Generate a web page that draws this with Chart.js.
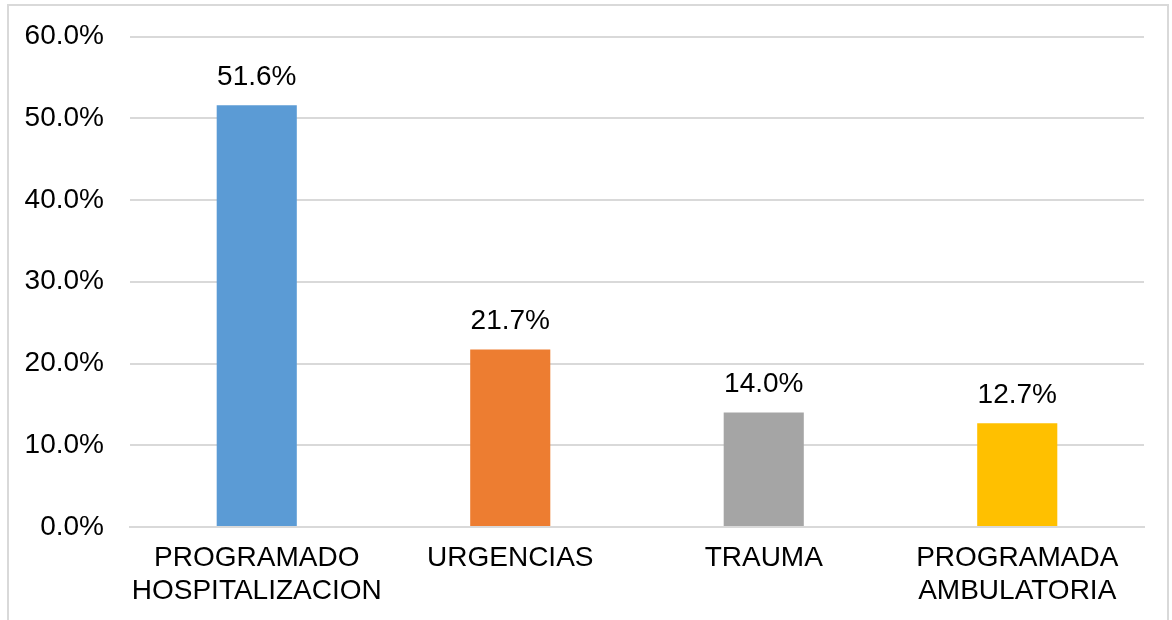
<!DOCTYPE html>
<html>
<head>
<meta charset="utf-8">
<script src="https://cdn.jsdelivr.net/npm/chart.js@4.4.1/dist/chart.umd.min.js"></script>
<style>
  html, body { margin: 0; padding: 0; background: #fff; overflow: hidden; }
  #wrap { position: relative; width: 1172px; height: 620px; overflow: hidden; }
  #frame { position: absolute; left: 7px; top: 4px; width: 1162px; height: 700px; border: 2px solid #d9d9d9; box-sizing: border-box; }
  canvas { position: absolute; left: 0; top: -6px; }
</style>
</head>
<body>
<div id="wrap">
  <div id="frame"></div>
  <canvas id="myBarChart" width="1172" height="626"></canvas>
</div>
<script>
// datos del grafico
const categorias = [['PROGRAMADO', 'HOSPITALIZACION'], 'URGENCIAS', 'TRAUMA', ['PROGRAMADA', 'AMBULATORIA']];
const porcentajes = [51.6, 21.7, 14.0, 12.7];
const colores = ['#5B9BD5', '#ED7D31', '#A5A5A5', '#FFC000'];
const ejeMax = 60;
const ejePaso = 10;

const fuente = { family: "'Liberation Sans', Arial, sans-serif", size: 28, lineHeight: 1.18 };

// etiquetas encima de cada barra
const etiquetas = {
  id: 'etiquetas',
  afterDatasetsDraw(chart) {
    const ctx = chart.ctx;
    const meta = chart.getDatasetMeta(0);
    ctx.save();
    ctx.font = fuente.size + 'px ' + fuente.family;
    ctx.fillStyle = '#000';
    ctx.textAlign = 'center';
    ctx.textBaseline = 'middle';
    meta.data.forEach((bar, i) => {
      ctx.fillText(porcentajes[i].toFixed(1) + '%', bar.x, bar.y - 28);
    });
    ctx.restore();
  }
};

const ctxBar = document.getElementById('myBarChart').getContext('2d');
new Chart(ctxBar, {
  type: 'bar',
  data: {
    labels: categorias,
    datasets: [{
      data: porcentajes,
      backgroundColor: colores,
      borderWidth: 0,
      categoryPercentage: 1,
      barPercentage: 0.316
    }]
  },
  options: {
    responsive: false,
    animation: false,
    layout: { padding: { left: 0, right: 28, top: 29, bottom: 0 } },
    plugins: { legend: { display: false }, tooltip: { enabled: false } },
    scales: {
      x: {
        grid: { display: false, drawTicks: false },
        border: { display: true, color: '#d9d9d9', width: 2 },
        ticks: { color: '#000', font: fuente, padding: 15, maxRotation: 0, autoSkip: false },
        afterFit(s) { s.height = 93; }
      },
      y: {
        min: 0,
        max: ejeMax,
        grid: { color: '#d9d9d9', lineWidth: 2, drawTicks: false },
        border: { display: false },
        ticks: {
          stepSize: ejePaso,
          color: '#000',
          font: fuente,
          padding: 26,
          callback: v => v.toFixed(1) + '%'
        },
        afterFit(s) { s.width = 130; }
      }
    }
  },
  plugins: [etiquetas]
});
</script>
</body>
</html>
